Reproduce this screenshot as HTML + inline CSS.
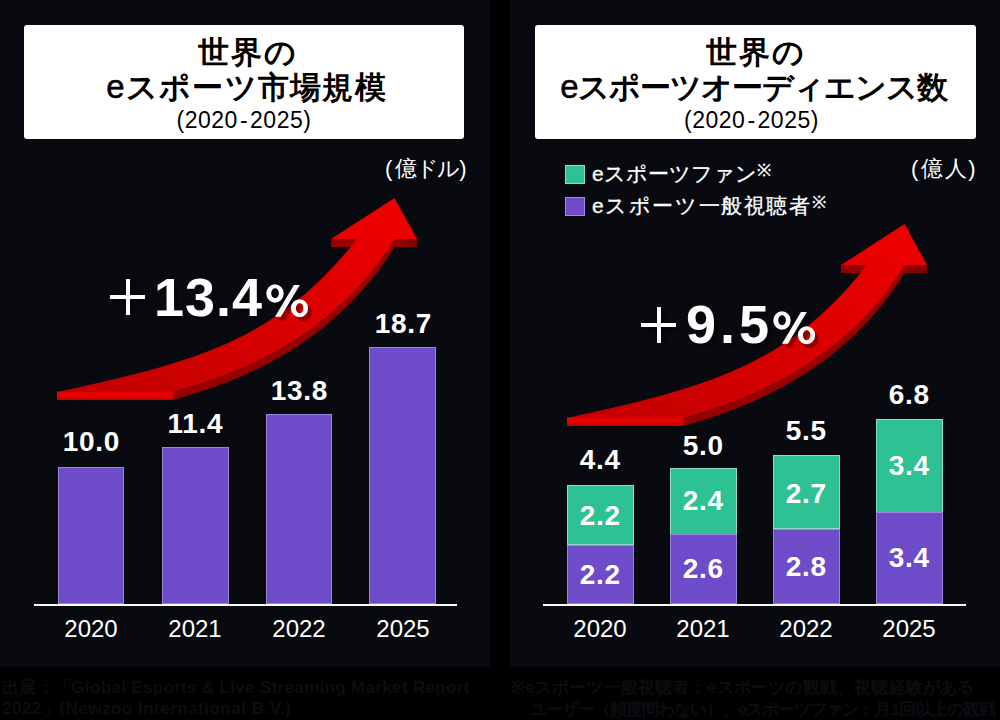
<!DOCTYPE html>
<html><head><meta charset="utf-8">
<style>
*{margin:0;padding:0;box-sizing:border-box}
html,body{width:1000px;height:720px;overflow:hidden;background:#000;font-family:"Liberation Sans",sans-serif}
.abs{position:absolute}
.panel{position:absolute;top:0;width:490px;height:667px;background:#080a10}
.tbox{position:absolute;top:25px;height:114px;background:#fff;border-radius:3px}
.t{position:absolute;left:0;width:100%;text-align:center;color:#000;white-space:nowrap}
.t1{font-size:31px;font-weight:bold;top:10px;line-height:36px;letter-spacing:2px;text-indent:2px}
.t2{font-size:31px;font-weight:bold;top:44px;line-height:36px;letter-spacing:1.25px;text-indent:1.25px}
.t3{font-size:23px;top:81px;line-height:28px;letter-spacing:0.5px}
.bar{position:absolute;background:#6e4bc9;border:1px solid rgba(255,255,255,.32)}
.gbar{position:absolute;background:#2ec194;border:1px solid rgba(255,255,255,.45)}
.base{position:absolute;height:2px;background:#fff;top:604px}
.val{position:absolute;color:#fff;font-weight:bold;font-size:28px;text-align:center;width:120px;line-height:30px;letter-spacing:0.7px;text-indent:0.7px}
.yr{position:absolute;color:#fff;font-size:24px;text-align:center;width:120px;line-height:28px;top:615px}
.big{position:absolute;color:#fff;font-weight:bold;white-space:nowrap;text-shadow:4px 4px 1px rgba(0,0,0,.33)}
.plus{position:absolute;width:35px;height:36px;filter:drop-shadow(4px 4px 1px rgba(0,0,0,.33))}
.plus:before{content:"";position:absolute;left:0;top:16px;width:35px;height:3.5px;background:#fff}
.plus:after{content:"";position:absolute;left:16px;top:0;width:3.5px;height:36px;background:#fff}
.unit{position:absolute;color:#fff;font-size:20px;white-space:nowrap;line-height:24px}
.foot{position:absolute;color:#0c0d13;font-size:17px;font-weight:bold;white-space:nowrap;line-height:22px;letter-spacing:0.5px}
</style></head>
<body>
<div class="panel" style="left:0"></div>
<div class="panel" style="left:510px"></div>

<!-- left title -->
<div class="tbox" style="left:24px;width:440px">
  <div class="t t1" style="left:3px">世界の</div>
  <div class="t t2" style="left:2px"><span style="font-weight:normal;font-size:33px;-webkit-text-stroke:0.5px #000">e</span>スポーツ市場規模</div>
  <div class="t t3">(2020<span style="margin:0 2px">-</span>2025)</div>
</div>
<!-- right title -->
<div class="tbox" style="left:535px;width:441px">
  <div class="t t1" style="left:-1px">世界の</div>
  <div class="t t2" style="letter-spacing:-1px;text-indent:-4px"><span style="font-weight:normal;font-size:33px;-webkit-text-stroke:0.5px #000">e</span>スポーツオーディエンス数</div>
  <div class="t t3" style="left:-4px">(2020<span style="margin:0 2px">-</span>2025)</div>
</div>

<div class="unit" style="left:385px;top:156px;font-size:22px;line-height:26px">(<span style="margin-left:3px">億</span><span style="margin-left:-1px">ド</span><span style="margin-left:-2px">ル</span><span style="margin-left:-1px">)</span></div>
<div class="unit" style="left:911px;top:156px;font-size:22px;line-height:26px">(<span style="margin-left:3px">億</span><span style="margin-left:2px">人</span><span style="margin-left:1px">)</span></div>

<!-- legend -->
<div class="abs" style="left:565px;top:165px;width:20px;height:19px;background:#2ec194;border:1px solid #8adcbf"></div>
<div class="abs" style="left:565px;top:197px;width:20px;height:19px;background:#6e4bc9;border:1px solid #a08ae6"></div>
<div class="unit" style="left:592px;top:162px;letter-spacing:0.1px;font-size:21px;-webkit-text-stroke:0.3px #fff">eスポーツファン<span style="font-size:17px;vertical-align:top;position:relative;top:-3px;letter-spacing:0">※</span></div>
<div class="unit" style="left:592px;top:194px;letter-spacing:1.6px;font-size:21px;-webkit-text-stroke:0.3px #fff">eスポーツ一般視聴者<span style="font-size:17px;vertical-align:top;position:relative;top:-3px;letter-spacing:0">※</span></div>

<!-- arrows -->
<svg class="abs" style="left:0;top:0" width="1000" height="720">
  <defs>
    <linearGradient id="rg" x1="0" y1="1" x2="1" y2="0">
      <stop offset="0" stop-color="#c20000"/>
      <stop offset="1" stop-color="#f00000"/>
    </linearGradient>
    <linearGradient id="rt" x1="0" y1="0" x2="0" y2="1"><stop offset="0" stop-color="#ec0000"/><stop offset=".5" stop-color="#e40000"/><stop offset="1" stop-color="#bf0000"/></linearGradient>
    <linearGradient id="rf" x1="0" y1="0" x2="1" y2="0"><stop offset="0" stop-color="#9a0000"/><stop offset="1" stop-color="#7e0000"/></linearGradient>
    <g id="arrow">
      <path fill="#950000" d="M173,392 C268.1,366.3 345.1,319.2 394.6,239 L394.6,247 C345.1,327.2 268.1,374.3 173,400 Z"/>
      <rect x="331" y="238.5" width="27" height="8.5" fill="#940000"/>
      <rect x="393" y="238.5" width="24" height="8.5" fill="url(#rf)"/>
      <rect x="57" y="391.5" width="116.5" height="8.5" fill="url(#rt)"/>
      <path fill="url(#rg)" d="M57,392 L173,392 C268.1,366.3 345.1,319.2 394.6,239 L417,239 L394.5,198 L331,239 L357,239 C277.7,339.5 200,361 57,392 Z"/>
    </g>
  </defs>
  <use href="#arrow"/>
  <use href="#arrow" transform="translate(510,26)"/>
</svg>

<div class="plus" style="left:110px;top:279px"></div><div class="big" style="left:154px;top:266px;font-size:54px;letter-spacing:1px">13.4</div>
<div class="plus" style="left:641px;top:307px"></div><div class="big" style="left:686px;top:293px;font-size:54px;letter-spacing:4px">9.5</div>

<svg class="abs" style="left:0;top:0" width="1000" height="720">
  <defs>
    <g id="pct">
      <path fill-rule="evenodd" d="M283.7,293.5 A8.7,9.3 0 1 0 266.3,293.5 A8.7,9.3 0 1 0 283.7,293.5 Z M278.9,293.3 A3.85,5 0 1 1 271.2,293.3 A3.85,5 0 1 1 278.9,293.3 Z"/>
      <path fill-rule="evenodd" d="M308.1,308.2 A8.6,9 0 1 0 290.9,308.2 A8.6,9 0 1 0 308.1,308.2 Z M303.4,308.2 A3.75,5.15 0 1 1 295.9,308.2 A3.75,5.15 0 1 1 303.4,308.2 Z"/>
      <path d="M294,284.9 L299.8,284.9 L280.9,316.7 L275,316.7 Z"/>
    </g>
  </defs>
  <use href="#pct" transform="translate(3.5,4)" fill="rgba(0,0,0,.33)"/>
  <use href="#pct" fill="#fff"/>
  <use href="#pct" transform="translate(510.5,31)" fill="rgba(0,0,0,.33)"/>
  <use href="#pct" transform="translate(507,27)" fill="#fff"/>
</svg>
<!-- left bars -->
<div class="bar" style="left:58px;top:467px;width:66px;height:137px"></div>
<div class="bar" style="left:162px;top:447px;width:67px;height:157px"></div>
<div class="bar" style="left:266px;top:414px;width:66px;height:190px"></div>
<div class="bar" style="left:369px;top:347px;width:67px;height:257px"></div>
<div class="base" style="left:34px;width:423px"></div>
<div class="val" style="left:31px;top:427px">10.0</div>
<div class="val" style="left:135px;top:409px">11.4</div>
<div class="val" style="left:239px;top:376px">13.8</div>
<div class="val" style="left:343px;top:309px">18.7</div>
<div class="yr" style="left:31px">2020</div>
<div class="yr" style="left:135px">2021</div>
<div class="yr" style="left:239px">2022</div>
<div class="yr" style="left:343px">2025</div>

<!-- right bars -->
<div class="gbar" style="left:567px;top:485px;width:67px;height:60px"></div>
<div class="bar" style="left:567px;top:545px;width:67px;height:59px"></div>
<div class="gbar" style="left:670px;top:468px;width:67px;height:67px"></div>
<div class="bar" style="left:670px;top:534px;width:67px;height:70px"></div>
<div class="gbar" style="left:773px;top:455px;width:67px;height:74px"></div>
<div class="bar" style="left:773px;top:529px;width:67px;height:75px"></div>
<div class="gbar" style="left:876px;top:419px;width:67px;height:94px"></div>
<div class="bar" style="left:876px;top:512px;width:67px;height:92px"></div>
<div class="base" style="left:543px;width:423px"></div>
<div class="val" style="left:540px;top:445px">4.4</div>
<div class="val" style="left:643px;top:431px">5.0</div>
<div class="val" style="left:746px;top:416px">5.5</div>
<div class="val" style="left:849px;top:380px">6.8</div>
<div class="val" style="left:540px;top:501px">2.2</div>
<div class="val" style="left:540px;top:560px">2.2</div>
<div class="val" style="left:643px;top:486px">2.4</div>
<div class="val" style="left:643px;top:554px">2.6</div>
<div class="val" style="left:746px;top:479px">2.7</div>
<div class="val" style="left:746px;top:552px">2.8</div>
<div class="val" style="left:849px;top:451px">3.4</div>
<div class="val" style="left:849px;top:543px">3.4</div>
<div class="yr" style="left:540px">2020</div>
<div class="yr" style="left:643px">2021</div>
<div class="yr" style="left:746px">2022</div>
<div class="yr" style="left:849px">2025</div>

<!-- footnotes -->
<div class="foot" style="left:2px;top:677px;letter-spacing:0.33px">出展：「Global Esports &amp; Live Streaming Market Report</div>
<div class="foot" style="left:2px;top:698px">2022」(Newzoo International B.V.)</div>
<div class="foot" style="left:511px;top:677px;letter-spacing:0.2px">※eスポーツ一般視聴者：eスポーツの観戦、視聴経験がある</div>
<div class="foot" style="left:530px;top:699px;letter-spacing:-1px">ユーザー（頻度問わない）、eスポーツファン：月1回以上の観戦</div>
</body></html>
